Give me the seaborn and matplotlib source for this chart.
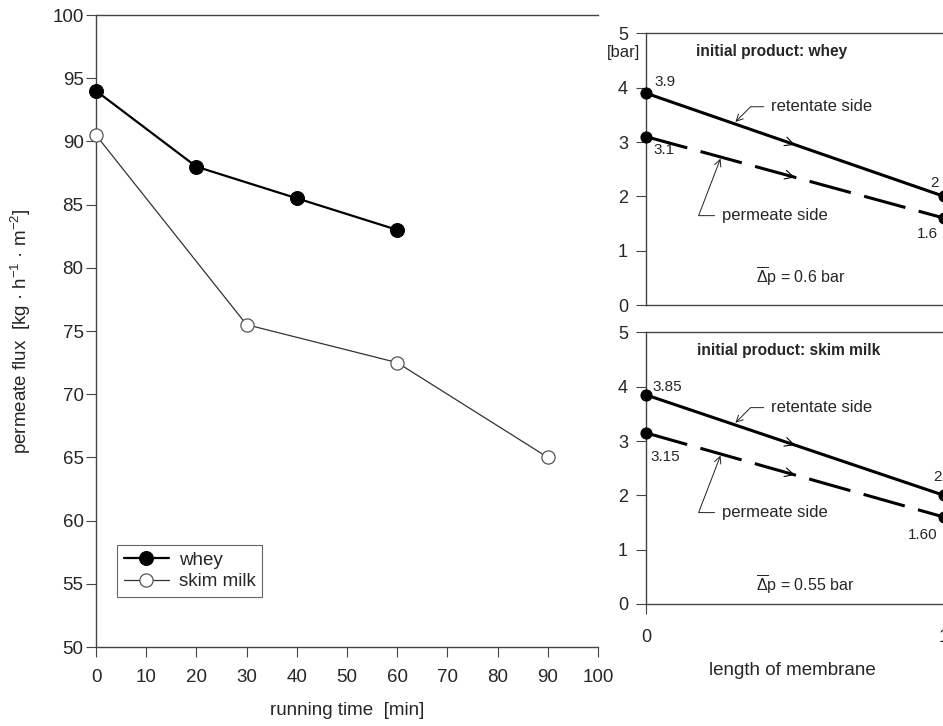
import numpy as np
import pandas as pd
import matplotlib
matplotlib.use("Agg")
import matplotlib.pyplot as plt
import seaborn as sns

# ---------------- data ----------------
time_whey = [0, 20, 40, 60]
flux_whey = [94.0, 88.0, 85.5, 83.0]
time_skim = [0, 30, 60, 90]
flux_skim = [90.5, 75.5, 72.5, 65.0]

membrane_pos = [0, 1]
whey_retentate = [3.9, 2.0]
whey_permeate = [3.1, 1.6]
skim_retentate = [3.85, 2.0]
skim_permeate = [3.15, 1.60]

left_xticks = list(range(0, 101, 10))
left_yticks = list(range(50, 101, 5))
right_yticks = [0, 1, 2, 3, 4, 5]

# ---------------- style ----------------
sns.set_style("ticks")
plt.rcParams["font.family"] = ["Liberation Sans", "DejaVu Sans"]
plt.rcParams["mathtext.fontset"] = "custom"
plt.rcParams["mathtext.rm"] = "Liberation Sans"
plt.rcParams["mathtext.it"] = "Liberation Sans:italic"
plt.rcParams["mathtext.bf"] = "Liberation Sans:bold"
SPINE = "#444444"

W, H = 943, 726
fig = plt.figure(figsize=(W / 100, H / 100), dpi=100)

ax1 = fig.add_axes([96 / W, 1 - 647 / H, 502 / W, 632 / H])
ax2 = fig.add_axes([646 / W, 1 - 305 / H, 327.8 / W, 271.6 / H])
ax3 = fig.add_axes([646 / W, 1 - 604 / H, 327.8 / W, 271.6 / H])

# ---------------- left panel ----------------
df_w = pd.DataFrame({"t": time_whey, "f": flux_whey})
df_s = pd.DataFrame({"t": time_skim, "f": flux_skim})
sns.lineplot(data=df_w, x="t", y="f", ax=ax1, color="black", lw=1.6,
             marker="o", markersize=10, markerfacecolor="black",
             markeredgecolor="black", label="whey", clip_on=False, zorder=4)
sns.lineplot(data=df_s, x="t", y="f", ax=ax1, color="#333333", lw=0.9,
             marker="o", markersize=9.5, markerfacecolor="white",
             markeredgecolor="#555555", markeredgewidth=0.9,
             label="skim milk", clip_on=False, zorder=3)

ax1.set_xlim(0, 100)
ax1.set_ylim(50, 100)
ax1.set_xticks(left_xticks)
ax1.set_yticks(left_yticks)
ax1.tick_params(axis="both", direction="out", length=7, width=0.8,
                color=SPINE, labelsize=13.5)
ax1.tick_params(axis="x", pad=9)
ax1.tick_params(axis="y", pad=2)
for s in ["left", "bottom", "top"]:
    ax1.spines[s].set_color(SPINE)
    ax1.spines[s].set_linewidth(1.0)
ax1.spines["right"].set_visible(False)

ax1.set_xlabel("running time  [min]", fontsize=13.5)
ax1.set_ylabel("permeate flux  [kg · h$^{-1}$ · m$^{-2}$]", fontsize=13.5)
ax1.xaxis.set_label_coords(0.5, (647 - 702) / 632)
ax1.yaxis.set_label_coords((33 - 96) / 502, 0.5)

leg = ax1.legend(loc="lower left", bbox_to_anchor=((117 - 96) / 502, (647 - 597) / 632),
                 fontsize=13.5, frameon=True, fancybox=False, framealpha=1,
                 edgecolor="#666666", borderpad=0.35, labelspacing=0.25,
                 handlelength=2.4, handletextpad=0.55, borderaxespad=0)
leg.get_frame().set_linewidth(0.8)

# ---------------- right panels ----------------
def draw_panel(ax, retentate, permeate, title, lbls, dp_text, dp_y, show_x):
    d = pd.DataFrame({"x": membrane_pos, "r": retentate, "p": permeate})
    sns.lineplot(data=d, x="x", y="r", ax=ax, color="black", lw=2.2,
                 marker="o", markersize=8, markeredgecolor="black",
                 clip_on=False, zorder=4)
    sns.lineplot(data=d, x="x", y="p", ax=ax, color="black", lw=2.2,
                 marker="o", markersize=8, markeredgecolor="black",
                 clip_on=False, zorder=4)
    ax.lines[-1].set_dashes([14, 4.5])
    ax.set_xlim(0, 1.1)
    ax.set_ylim(0, 5)
    ax.set_yticks(right_yticks)
    ax.set_xlabel("")
    ax.set_ylabel("")
    for s in ["left", "bottom", "top"]:
        ax.spines[s].set_color(SPINE)
        ax.spines[s].set_linewidth(1.0)
    ax.spines["right"].set_visible(False)
    ax.tick_params(axis="y", direction="out", length=7, width=0.8, color=SPINE,
                   labelsize=13, pad=6)
    if show_x:
        ax.set_xticks([0, 1])
        ax.tick_params(axis="x", direction="out", length=7, width=0.8,
                       color=SPINE, labelsize=13, pad=11)
    else:
        ax.set_xticks([])

    ax.text(0.42 if "whey" in title else 0.48, 4.66, title, fontsize=11.2,
            fontweight="bold", ha="center", va="center")

    # value labels
    (r0x, r0y), (p0x, p0y), (r1x, r1y), (p1x, p1y) = lbls
    ax.text(r0x, r0y, f"{retentate[0]:g}" if retentate[0] != 3.85 else "3.85",
            fontsize=11, ha="left", va="center")
    ax.text(p0x, p0y, f"{permeate[0]:g}", fontsize=11, ha="left", va="center")
    ax.text(r1x, r1y, f"{retentate[1]:g}", fontsize=11, ha="left", va="center")
    ax.text(p1x, p1y, p1_txt[ax], fontsize=11, ha="left", va="center")

    # flow-direction chevrons
    for ys in (retentate, permeate):
        y_a = np.interp(0.43, membrane_pos, ys)
        y_b = np.interp(0.50, membrane_pos, ys)
        ax.annotate("", xy=(0.50, y_b), xytext=(0.43, y_a),
                    arrowprops=dict(arrowstyle="->", lw=0.8, color="black",
                                    mutation_scale=16, shrinkA=0, shrinkB=0))

    # leader annotations
    yr = np.interp(0.30, membrane_pos, retentate)
    ax.annotate("retentate side", xy=(0.30, yr + 0.04), xytext=(0.42, yr + 0.32),
                fontsize=12, ha="left", va="center",
                arrowprops=dict(arrowstyle="->", lw=0.7, color="#222222",
                                mutation_scale=12, shrinkA=3, shrinkB=0,
                                connectionstyle="angle,angleA=0,angleB=45,rad=0"))
    yp = np.interp(0.25, membrane_pos, permeate)
    ax.annotate("permeate side", xy=(0.25, yp - 0.03), xytext=(0.255, yp - 1.08),
                fontsize=12, ha="left", va="center",
                arrowprops=dict(arrowstyle="->", lw=0.7, color="#222222",
                                mutation_scale=12, shrinkA=3, shrinkB=0,
                                connectionstyle="angle,angleA=0,angleB=69,rad=0"))

    ax.text(0.37, dp_y, dp_text, fontsize=11.5, ha="left", va="center")


p1_txt = {ax2: "1.6", ax3: "1.60"}
draw_panel(ax2, whey_retentate, whey_permeate, "initial product: whey",
           [(0.03, 4.10), (0.025, 2.85), (0.955, 2.24), (0.91, 1.31)],
           r"$\overline{\mathrm{Δ}}\mathrm{p}$ = 0.6 bar", 0.52, False)
draw_panel(ax3, skim_retentate, skim_permeate, "initial product: skim milk",
           [(0.02, 4.00), (0.015, 2.70), (0.965, 2.34), (0.88, 1.27)],
           r"$\overline{\mathrm{Δ}}\mathrm{p}$ = 0.55 bar", 0.36, True)

fig.text(623.5 / W, 1 - 53 / H, "[bar]", fontsize=12, ha="center", va="center")
ax3.set_xlabel("length of membrane", fontsize=13.5)
ax3.xaxis.set_label_coords(0.49 / 1.1, (604 - 662) / 271.6)

fig.savefig("out.png", dpi=100)
